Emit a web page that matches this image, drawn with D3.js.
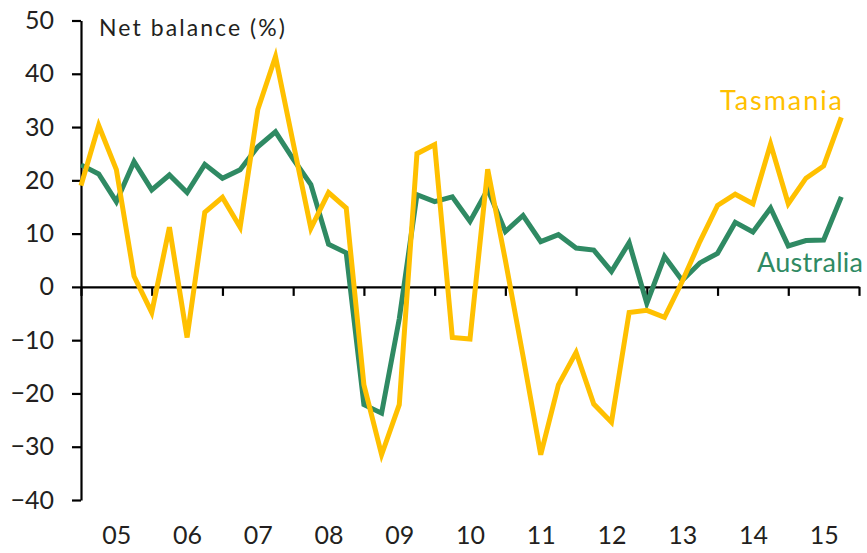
<!DOCTYPE html>
<html>
<head>
<meta charset="utf-8">
<script src="https://cdn.jsdelivr.net/npm/d3@7"></script>
<style>
  html, body { margin: 0; padding: 0; background: #fff; }
  svg { display: block; font-family: Lato, "Open Sans", sans-serif; }
</style>
</head>
<body>
<svg id="chart" width="867" height="553"></svg>
<script>
// ---- Data (quarterly, Q1 2005 – Q4 2015) ----
const yearLabels = ["05","06","07","08","09","10","11","12","13","14","15"];
const yTicks = [-40,-30,-20,-10,0,10,20,30,40,50];
const tasmania = [19, 30.3, 22, 2, -4.8, 11.2, -9.5, 14, 16.8, 11.2, 33.3, 43.2,
  27, 11, 17.7, 14.8, -18.4, -31.5, -22.1, 25, 26.7, -9.5, -9.8, 22.1,
  5, -13, -31.5, -18.4, -12.3, -22, -25.4, -4.8, -4.4, -5.7, 1, 8.5,
  15.3, 17.4, 15.6, 26.8, 15.6, 20.4, 22.7, 31.8];
const australia = [22.9, 21.2, 16, 23.5, 18.2, 21, 17.7, 23, 20.4, 22, 26.3, 29.1,
  24, 19.2, 8, 6.4, -22.1, -23.7, -6, 17.3, 16, 16.9, 12.3, 18.3,
  10.4, 13.4, 8.5, 9.8, 7.3, 6.9, 2.9, 8.3, -3.1, 5.7, 1.2, 4.5,
  6.3, 12.1, 10.3, 14.8, 7.7, 8.7, 8.8, 16.9];
const startYear = 2005;

const svg = d3.select("#chart");
const textColor = "#231f20";

const x = d3.scaleLinear().domain([2005, 2016]).range([81, 859]);
const y = d3.scaleLinear().domain([-40, 50]).range([500, 20.5]);

const t = i => startYear + i / 4;

// Y axis
const yAxis = svg.append("g")
  .attr("transform", `translate(${x(2005)},0)`)
  .call(d3.axisLeft(y).tickValues(yTicks).tickSize(9).tickPadding(18).tickSizeOuter(0).tickFormat(d3.format("d")));
yAxis.select(".domain").attr("stroke", "#000").attr("stroke-width", 2.2);
yAxis.selectAll(".tick line").attr("stroke", "#000").attr("stroke-width", 2.2);
yAxis.selectAll(".tick text").attr("fill", textColor).attr("font-size", 25)
  .attr("font-family", "Lato, sans-serif");

// X axis at zero
const xTickVals = d3.range(2005, 2017);
const xAxis = svg.append("g")
  .attr("transform", `translate(0,${y(0)})`)
  .call(d3.axisBottom(x).tickValues(xTickVals).tickSize(9).tickSizeOuter(0).tickFormat(""));
xAxis.select(".domain").attr("stroke", "#000").attr("stroke-width", 2.2);
xAxis.selectAll(".tick line").attr("stroke", "#000").attr("stroke-width", 2.2);

// X labels at bottom (mid-year)
const xLab = svg.append("g")
  .attr("transform", `translate(0,${y(-40)})`)
  .call(d3.axisBottom(x).tickValues(yearLabels.map((d, i) => startYear + i + 0.5))
    .tickSize(0).tickPadding(26).tickFormat((d, i) => yearLabels[i]));
xLab.select(".domain").remove();
xLab.selectAll(".tick text").attr("fill", textColor).attr("font-size", 25)
  .attr("font-family", "Lato, sans-serif");

// Lines
const line = d3.line().x((d, i) => x(t(i))).y(d => y(d));
svg.append("path").datum(australia)
  .attr("fill", "none").attr("stroke", "#2f8a63").attr("stroke-width", 5)
  .attr("stroke-linejoin", "miter").attr("d", line);
svg.append("path").datum(tasmania)
  .attr("fill", "none").attr("stroke", "#ffc000").attr("stroke-width", 5)
  .attr("stroke-linejoin", "miter").attr("d", line);

// Title
svg.append("text").attr("x", 99).attr("y", 36)
  .attr("fill", textColor).attr("font-size", 23)
  .attr("textLength", 186).attr("lengthAdjust", "spacing").text("Net balance (%)");

// Series labels
svg.append("text").attr("x", 720).attr("y", 110)
  .attr("fill", "#ffc000").attr("font-size", 27)
  .attr("textLength", 122).attr("lengthAdjust", "spacing").text("Tasmania");
svg.append("text").attr("x", 757).attr("y", 272)
  .attr("fill", "#2f8a63").attr("font-size", 27)
  .attr("textLength", 106).attr("lengthAdjust", "spacing").text("Australia");
</script>
</body>
</html>
